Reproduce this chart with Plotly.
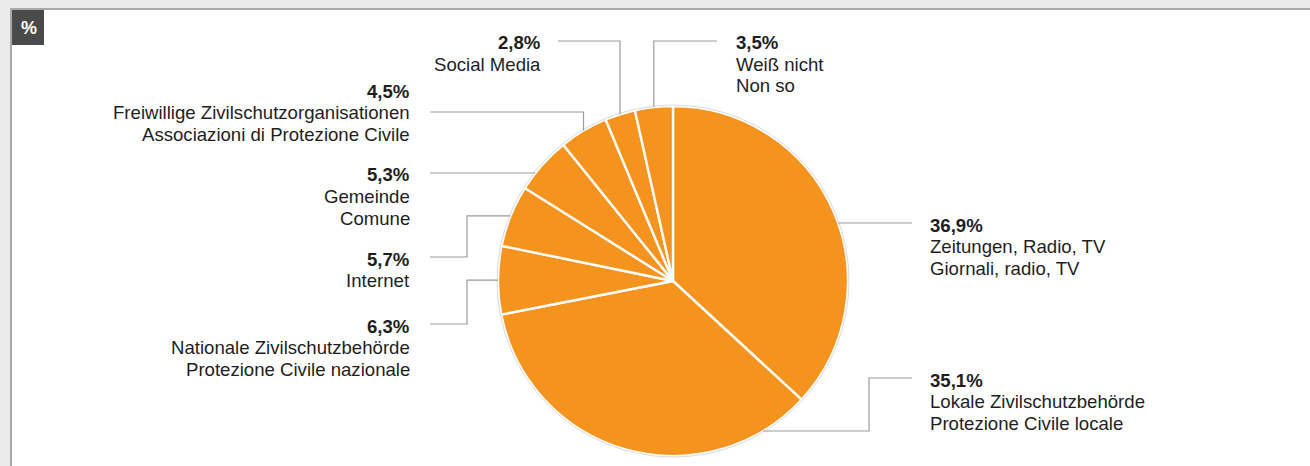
import math
import plotly.graph_objects as go

# ---------------- data ----------------
categories_de = ["Zeitungen, Radio, TV", "Lokale Zivilschutzbehörde", "Nationale Zivilschutzbehörde",
                 "Internet", "Gemeinde", "Freiwillige Zivilschutzorganisationen", "Social Media", "Weiß nicht"]
categories_it = ["Giornali, radio, TV", "Protezione Civile locale", "Protezione Civile nazionale",
                 None, "Comune", "Associazioni di Protezione Civile", None, "Non so"]
values = [36.9, 35.1, 6.3, 5.7, 5.3, 4.5, 2.8, 3.5]
value_labels = ["36,9%", "35,1%", "6,3%", "5,7%", "5,3%", "4,5%", "2,8%", "3,5%"]
unit_label = "%"

# ---------------- layout constants ----------------
W, H = 1310, 466
CX, CY, R = 673, 281, 175
ORANGE = "#F5931F"
TXT = "#1e1e1e"
LINE = "#9c9c9c"
FONT = "Liberation Sans, Arial, sans-serif"
FS = 18.6
ROW = 21.5

def px(x):
    return x / W

def py(y):
    return 1 - y / H

total = sum(values)
mids = []
acc = 0.0
for v in values:
    mids.append((acc + v / 2) / total * 360.0)
    acc += v

def edge_at_angle(a):
    r = math.radians(a)
    return CX + R * math.sin(r), CY - R * math.cos(r)

def edge_at_y(y, side):
    dx = math.sqrt(max(R * R - (y - CY) ** 2, 0))
    return (CX + dx if side == "r" else CX - dx), y

# label placement: (text anchor side, text x, first row y, leader route)
placement = [
    ("left", 928, 225, ("h", 223, "r", [(912, None)])),
    ("left", 928, 380, ("h", 431, "r", [(869, None), (869, 378), (912, 378)])),
    ("right", 412, 326, ("mh", [(467, None), (467, 324), (430, 324)])),
    ("right", 412, 259, ("mh", [(467, None), (467, 257), (430, 257)])),
    ("right", 412, 175, ("h", 173, "l", [(430, None)])),
    ("right", 412, 91, ("mv", [(None, 112), (430, 112)])),
    ("right", 543, 43, ("mv", [(None, 41), (558, 41)])),
    ("left", 734, 43, ("mv", [(None, 41), (717, 41)])),
]

fig = go.Figure()

fig.add_trace(go.Pie(
    values=values,
    labels=categories_de,
    sort=False,
    direction="clockwise",
    rotation=0,
    textinfo="none",
    hoverinfo="skip",
    showlegend=False,
    marker=dict(colors=[ORANGE] * len(values), line=dict(color="#fffdf8", width=2.4)),
    domain=dict(x=[px(CX - R), px(CX + R)], y=[py(CY + R), py(CY - R)]),
))

shapes = []
shapes.append(dict(type="rect", xref="paper", yref="paper", layer="below",
                   x0=px(11), x1=px(W + 20), y0=py(H + 20), y1=py(9),
                   fillcolor="white", line=dict(color="#a9a9a9", width=2)))
shapes.append(dict(type="rect", xref="paper", yref="paper", layer="below",
                   x0=px(12), x1=px(44), y0=py(45), y1=py(10),
                   fillcolor="#4a4a4a", line=dict(width=0)))
shapes.append(dict(type="circle", xref="paper", yref="paper", layer="above",
                   x0=px(CX - R - 1), x1=px(CX + R + 1), y0=py(CY + R + 1), y1=py(CY - R - 1),
                   line=dict(color="#d5dbe3", width=1)))

annotations = []
annotations.append(dict(text=f"<b>{unit_label}</b>", x=px(28.5), y=py(27.5), xref="paper", yref="paper",
                        showarrow=False, xanchor="center", yanchor="middle",
                        font=dict(family=FONT, size=18, color="white")))

for i, (anchor, tx, ry, route) in enumerate(placement):
    kind = route[0]
    if kind == "h":
        ex, ey = edge_at_y(route[1], route[2])
        steps = route[3]
    else:
        ex, ey = edge_at_angle(mids[i])
        steps = route[1]
    pts = [(ex, ey)]
    cur = (ex, ey)
    for (x, y) in steps:
        cur = (x if x is not None else cur[0], y if y is not None else cur[1])
        pts.append(cur)
    path = "M " + " L ".join(f"{px(x):.6f},{py(y):.6f}" for x, y in pts)
    shapes.append(dict(type="path", xref="paper", yref="paper", path=path,
                       line=dict(color=LINE, width=1.2), layer="above"))

    rows = [f"<b>{value_labels[i]}</b>", categories_de[i]]
    if categories_it[i]:
        rows.append(categories_it[i])
    for k, t in enumerate(rows):
        annotations.append(dict(text=t, x=px(tx), y=py(ry + k * ROW), xref="paper", yref="paper",
                                showarrow=False, xanchor=anchor, yanchor="middle",
                                font=dict(family=FONT, size=FS, color=TXT)))

fig.update_layout(
    width=W, height=H,
    margin=dict(l=0, r=0, t=0, b=0),
    paper_bgcolor="#ebebeb",
    plot_bgcolor="rgba(0,0,0,0)",
    shapes=shapes,
    annotations=annotations,
    showlegend=False,
)

fig.write_html("out.html", config={"displayModeBar": False},
               post_script="document.body.style.margin='0';document.body.style.overflow='hidden';")
